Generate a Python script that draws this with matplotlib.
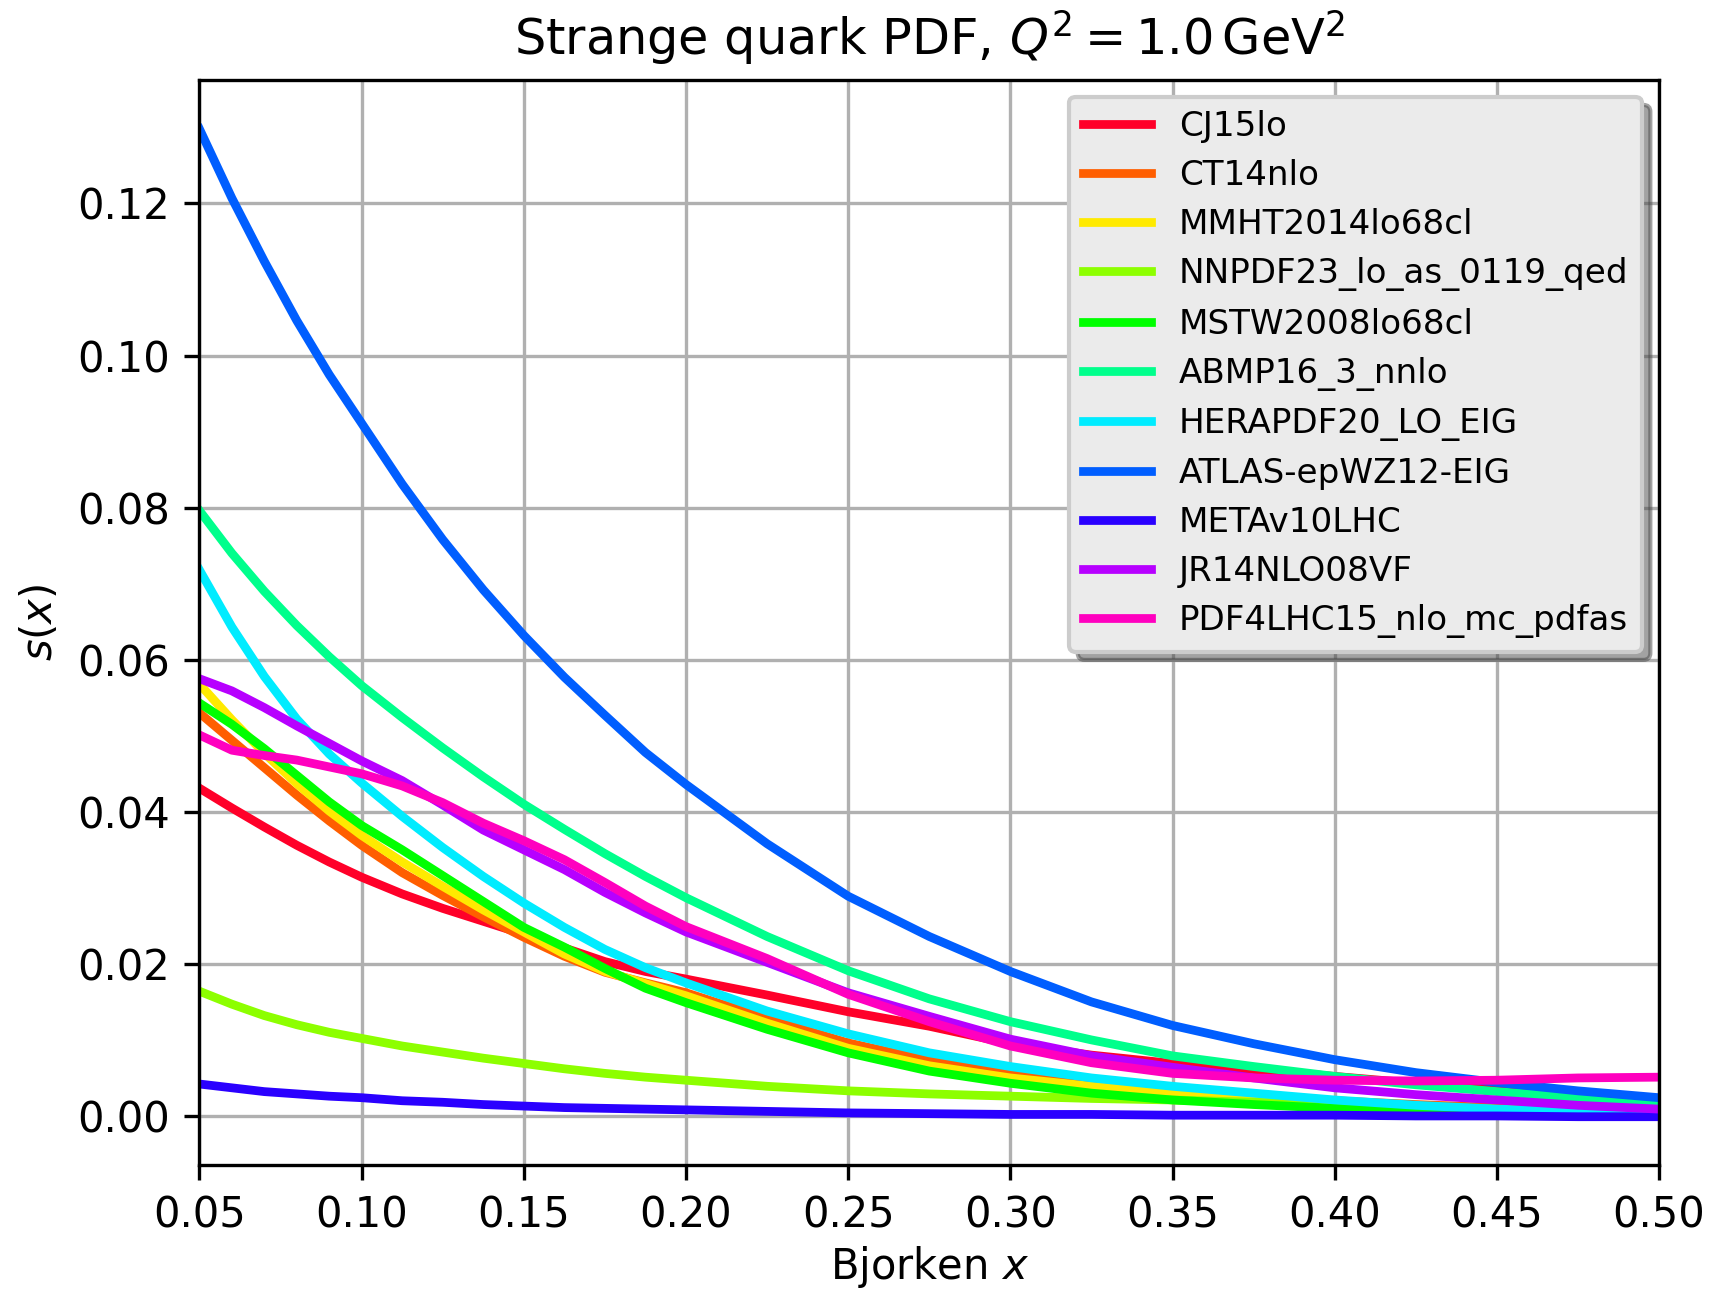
import numpy as np
import matplotlib
matplotlib.use("Agg")
import matplotlib.pyplot as plt

x = [0.05, 0.06, 0.07, 0.08, 0.09, 0.10, 0.1125, 0.125, 0.1375, 0.15, 0.1625, 0.175, 0.1875,
     0.20, 0.225, 0.25, 0.275, 0.30, 0.325, 0.35, 0.375, 0.40, 0.425, 0.45, 0.475, 0.50]

names = ["CJ15lo", "CT14nlo", "MMHT2014lo68cl", "NNPDF23_lo_as_0119_qed",
         "MSTW2008lo68cl", "ABMP16_3_nnlo", "HERAPDF20_LO_EIG",
         "ATLAS-epWZ12-EIG", "METAv10LHC", "JR14NLO08VF", "PDF4LHC15_nlo_mc_pdfas"]

cj15 = [0.0431, 0.0405, 0.0380, 0.0356, 0.0334, 0.0314, 0.0292, 0.0273, 0.0256, 0.0239, 0.0221,
        0.0203, 0.0190, 0.0180, 0.0159, 0.0137, 0.0118, 0.0095, 0.0080, 0.0069, 0.0061, 0.0052,
        0.0043, 0.0034, 0.0025, 0.0019]
ct14 = [0.0530, 0.0494, 0.0458, 0.0422, 0.0388, 0.0356, 0.0320, 0.0290, 0.0262, 0.0235, 0.0210,
        0.0189, 0.0175, 0.0162, 0.0128, 0.0096, 0.0073, 0.0056, 0.0044, 0.0034, 0.0026, 0.0020,
        0.0015, 0.0011, 0.0008, 0.0005]
mmht = [0.0568, 0.0521, 0.0477, 0.0437, 0.0401, 0.0369, 0.0334, 0.0302, 0.0271, 0.0242, 0.0213,
        0.0190, 0.0174, 0.0158, 0.0122, 0.0089, 0.0066, 0.0050, 0.0039, 0.0030, 0.0022, 0.0016,
        0.0012, 0.0008, 0.0005, 0.0003]
nnpdf = [0.0164, 0.0147, 0.0132, 0.0120, 0.0110, 0.0102, 0.0092, 0.0084, 0.0076, 0.0069, 0.0062,
         0.0056, 0.0051, 0.0047, 0.0039, 0.0033, 0.0029, 0.0026, 0.0023, 0.0021, 0.0018, 0.0015,
         0.0012, 0.0009, 0.0007, 0.0005]
mstw = [0.0543, 0.0515, 0.0483, 0.0448, 0.0413, 0.0382, 0.0350, 0.0316, 0.0282, 0.0248, 0.0222,
        0.0194, 0.0168, 0.0149, 0.0114, 0.0083, 0.0059, 0.0043, 0.0030, 0.0021, 0.0015, 0.0010,
        0.0006, 0.0004, 0.0002, 0.0001]
abmp = [0.0796, 0.0740, 0.0690, 0.0645, 0.0604, 0.0566, 0.0524, 0.0484, 0.0446, 0.0410, 0.0377,
        0.0345, 0.0315, 0.0287, 0.0236, 0.0191, 0.0154, 0.0124, 0.0100, 0.0079, 0.0065, 0.0052,
        0.0041, 0.0032, 0.0024, 0.0017]
hera = [0.0718, 0.0643, 0.0578, 0.0522, 0.0476, 0.0438, 0.0394, 0.0353, 0.0315, 0.0280, 0.0248,
        0.0219, 0.0195, 0.0175, 0.0138, 0.0108, 0.0083, 0.0065, 0.0050, 0.0039, 0.0030, 0.0021,
        0.0014, 0.0009, 0.0005, 0.0002]
atlas = [0.1298, 0.1207, 0.1124, 0.1046, 0.0975, 0.0911, 0.0831, 0.0758, 0.0692, 0.0632, 0.0577,
         0.0527, 0.0478, 0.0436, 0.0358, 0.0289, 0.0236, 0.0190, 0.0150, 0.0119, 0.0095, 0.0074,
         0.0057, 0.0044, 0.0033, 0.0024]
meta = [0.0042, 0.0037, 0.0032, 0.0029, 0.0026, 0.0024, 0.0020, 0.0018, 0.0015, 0.0013, 0.0011,
        0.0010, 0.0009, 0.0008, 0.0006, 0.0004, 0.0003, 0.0002, 0.0002, 0.0001, 0.0001, 0.0001,
        0.0000, 0.0000, -0.0001, -0.0001]
jr14 = [0.0575, 0.0559, 0.0537, 0.0513, 0.0490, 0.0467, 0.0441, 0.0409, 0.0376, 0.0350, 0.0324,
        0.0294, 0.0267, 0.0242, 0.0202, 0.0162, 0.0131, 0.0101, 0.0079, 0.0064, 0.0050, 0.0037,
        0.0028, 0.0021, 0.0014, 0.0009]
pdf4lhc = [0.0501, 0.0481, 0.0474, 0.0468, 0.0459, 0.0450, 0.0434, 0.0412, 0.0385, 0.0362, 0.0337,
           0.0307, 0.0276, 0.0249, 0.0207, 0.0160, 0.0124, 0.0092, 0.0070, 0.0056, 0.0050, 0.0047,
           0.0046, 0.0047, 0.0050, 0.0051]

series = [cj15, ct14, mmht, nnpdf, mstw, abmp, hera, atlas, meta, jr14, pdf4lhc]
xticks = [0.05, 0.10, 0.15, 0.20, 0.25, 0.30, 0.35, 0.40, 0.45, 0.50]
yticks = [0.00, 0.02, 0.04, 0.06, 0.08, 0.10, 0.12]

colors = plt.cm.gist_rainbow(np.linspace(0, 1, len(series)))

DPI = 300
fig = plt.figure(figsize=(1709 / DPI, 1289 / DPI), dpi=DPI)
ax = fig.add_axes([0.1167, 0.0962, 0.8541, 0.8421])

for vals, name, c in zip(series, names, colors):
    ax.plot(x, vals, color=c, lw=2.1, label=name)

ax.set_xlim(0.05, 0.50)
ax.set_ylim(-0.00645, 0.1363)
ax.set_xticks(xticks)
ax.set_xticklabels([f"{t:.2f}" for t in xticks])
ax.set_yticks(yticks)
ax.set_yticklabels([f"{t:.2f}" for t in yticks])
ax.tick_params(labelsize=10)
ax.grid(True, color="#b0b0b0", lw=0.8)
ax.set_xlabel("Bjorken $x$", fontsize=10, labelpad=2)
ax.set_ylabel("$s(x)$", fontsize=10)
ax.set_title(r"Strange quark PDF, $Q^2 = 1.0\,\mathrm{GeV}^2$", fontsize=11.85)

leg = ax.legend(loc="upper right", shadow=True, facecolor="#ebebeb", framealpha=1.0,
                fontsize=8.2, labelspacing=0.47)

fig.savefig("out.png", dpi=DPI)
